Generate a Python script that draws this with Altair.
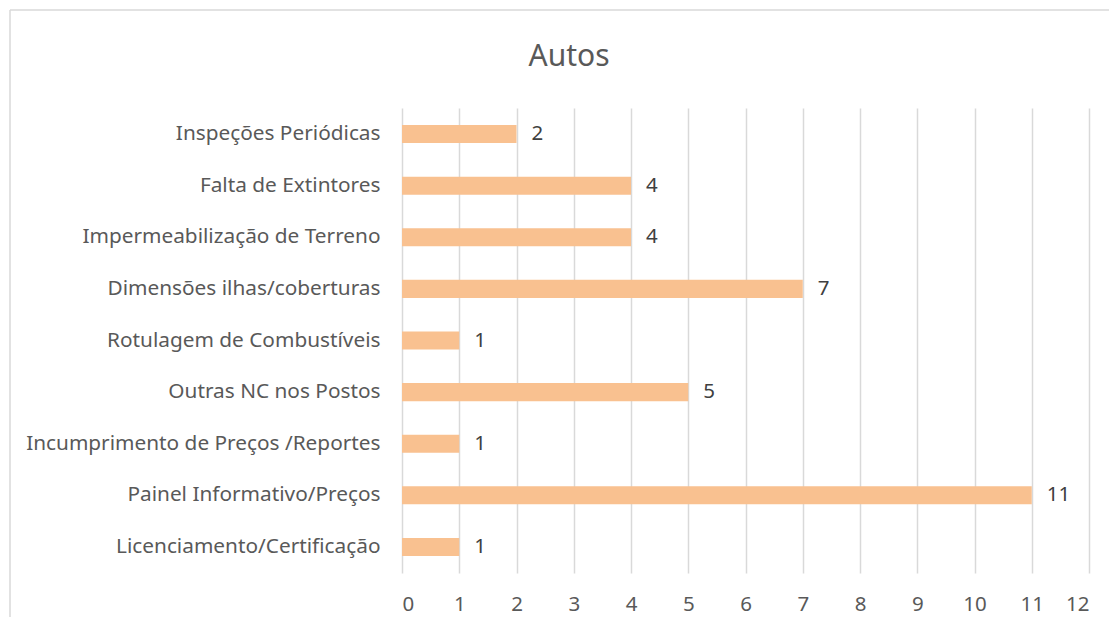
import altair as alt
import pandas as pd

categories = [
    "Inspeções Periódicas",
    "Falta de Extintores",
    "Impermeabilização de Terreno",
    "Dimensões ilhas/coberturas",
    "Rotulagem de Combustíveis",
    "Outras NC nos Postos",
    "Incumprimento de Preços /Reportes",
    "Painel Informativo/Preços",
    "Licenciamento/Certificação",
]
values = [2, 4, 4, 7, 1, 5, 1, 11, 1]
x_ticks = list(range(0, 13))
title_text = "Autos"

df = pd.DataFrame({"cat": categories, "val": values})
FONT = "Noto Sans"
TXT = "#595959"

y_enc = alt.Y("cat:N", sort=categories, title=None,
              scale=alt.Scale(paddingInner=0.65, paddingOuter=0.33),
              axis=alt.Axis(domain=False, ticks=False, grid=False,
                            labelFont=FONT, labelFontSize=20.8, labelColor=TXT,
                            labelPadding=22, labelLimit=500))
x_enc = alt.X("val:Q", title=None,
              scale=alt.Scale(domain=[0, 12], nice=False),
              axis=alt.Axis(values=x_ticks, format="d", domain=False, ticks=False,
                            grid=True, gridColor="#d9d9d9", gridWidth=1.5,
                            labelFont=FONT, labelFontSize=20.5, labelColor=TXT,
                            labelPadding=21))

bars = alt.Chart(df).mark_bar(color="#F9C190").encode(x=x_enc, y=y_enc)
labels = alt.Chart(df).mark_text(align="left", dx=15, font=FONT, fontSize=20.5,
                                 color="#404040").encode(
    x="val:Q", y=alt.Y("cat:N", sort=categories), text="val:Q")

one = pd.DataFrame({"t": [title_text]})
frame_top = alt.Chart(one).mark_rule(color="#d9d9d9", strokeWidth=1.5).encode(
    x=alt.value(-392), x2=alt.value(740), y=alt.value(-98))
frame_left = alt.Chart(one).mark_rule(color="#d9d9d9", strokeWidth=1.5).encode(
    x=alt.value(-392), y=alt.value(-98), y2=alt.value(540))
title = alt.Chart(one).mark_text(font=FONT, fontSize=30, color=TXT,
                                 align="center", baseline="middle").encode(
    x=alt.value(167), y=alt.value(-51), text="t:N")

chart = alt.layer(frame_top, frame_left, bars, labels, title).properties(
    width=687, height=465,
    padding={"left": 394, "top": 100, "right": 20, "bottom": 44},
    autosize=alt.AutoSizeParams(type="none"),
).configure_view(stroke=None)

chart.save("out.html", embed_options={"renderer": "svg", "actions": False})
